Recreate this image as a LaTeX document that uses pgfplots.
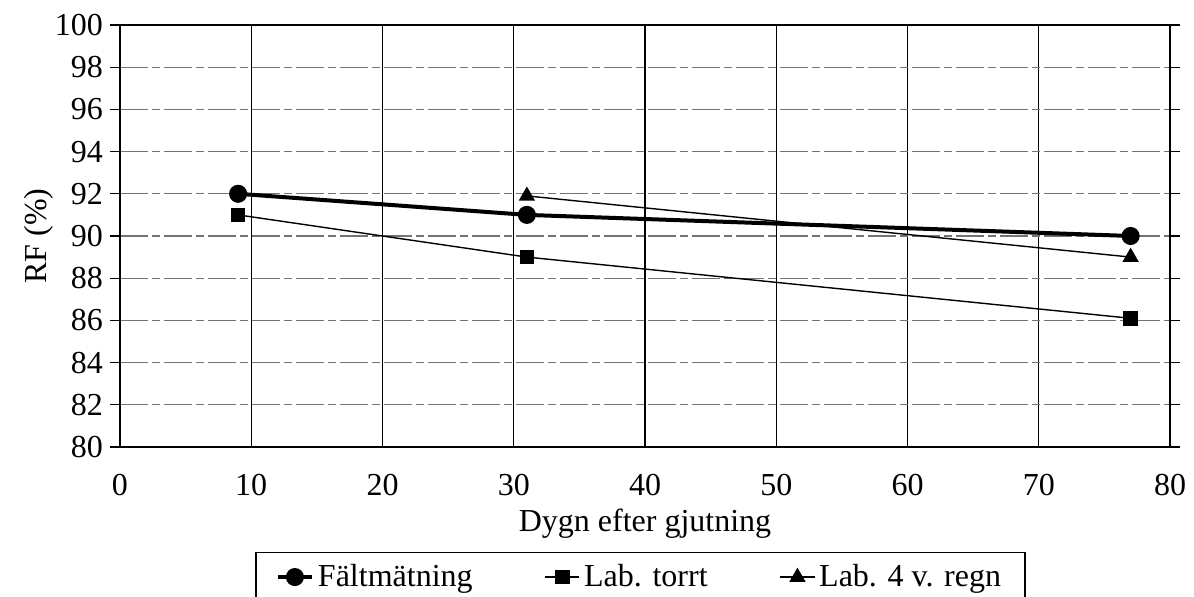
\documentclass[border=0pt]{standalone}
\usepackage{pgfplots}
\pgfplotsset{compat=1.18}
\usepackage{fontspec}
\setmainfont{Liberation Serif}
\begin{document}
\begin{tikzpicture}
\clip (-60pt,-75pt) rectangle (537pt,223.5pt);
\begin{axis}[
  at={(0,0)}, anchor=south west,
  scale only axis, width=525pt, height=211pt,
  xmin=0, xmax=80, ymin=80, ymax=100,
  xtick={0,10,...,80}, ytick={80,82,...,100},
  minor xtick={5,15,...,75},
  xtick style={draw=none},
  minor tick length=3pt,
  ytick style={black, line width=0.6pt},
  tick align=outside, major tick length=5pt,
  xmajorgrids, ymajorgrids,
  x grid style={black, line width=0.7pt},
  y grid style={black!55, line width=0.6pt, dash pattern=on 14pt off 2pt on 4pt off 2pt},
  axis line style={black, line width=1.1pt},
  tick label style={font=\fontsize{16}{19}\selectfont},
  /pgf/number format/assume math mode=true,
  xticklabel style={yshift=-5pt},
  xlabel={Dygn efter gjutning}, ylabel={RF (\%)},
  label style={font=\fontsize{16}{19}\selectfont},
  xlabel style={yshift=0pt},
  ylabel style={yshift=-6pt},
  legend columns=3,
  legend style={at={(axis description cs:0.1286,-0.248)}, anchor=north west,
    draw=black, line width=0.8pt, font=\fontsize{16}{19}\selectfont,
    inner ysep=4pt, inner xsep=10pt, row sep=14pt,
    /tikz/every even column/.append style={column sep=34pt}},
  legend cell align=left,
]
\addplot[black, line width=2pt, mark=*, mark size=3.5pt] coordinates {(9,92.0) (31,91.0) (77,90.0)};
\addlegendentry{Fältmätning}
\addplot[black, line width=0.7pt, mark=square*, mark size=3.3pt] coordinates {(9,91.0) (31,89.0) (77,86.1)};
\addlegendentry{Lab. torrt}
\addplot[black, line width=0.7pt, mark=triangle*, mark size=4pt] coordinates {(31,91.9) (77,89.0)};
\addlegendentry{Lab. 4 v. regn}
\end{axis}
\end{tikzpicture}
\end{document}
